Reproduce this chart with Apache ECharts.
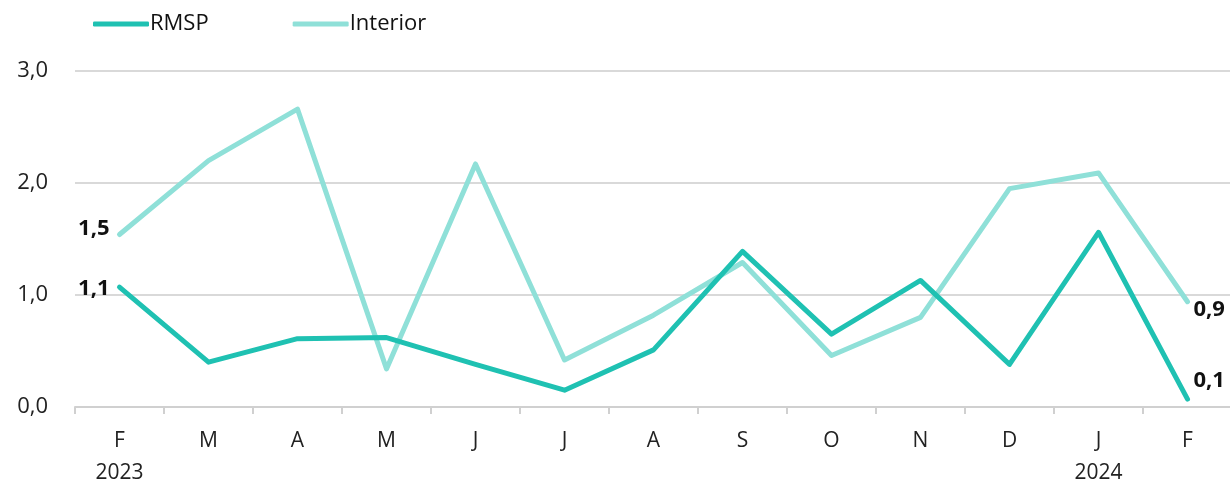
<!DOCTYPE html>
<html>
<head>
<meta charset="utf-8">
<script src="https://cdn.jsdelivr.net/npm/echarts@6/dist/echarts.min.js"></script>
<style>
  html, body { margin: 0; padding: 0; background: #fff; }
  #chart { width: 1230px; height: 485px; }
</style>
</head>
<body>
<div id="chart"></div>
<script>
// meses (fev/2023 a fev/2024)
const months = ['F', 'M', 'A', 'M', 'J', 'J', 'A', 'S', 'O', 'N', 'D', 'J', 'F'];
const years = { 0: '2023', 11: '2024' };
const rmsp = [1.07, 0.40, 0.61, 0.62, 0.38, 0.15, 0.51, 1.39, 0.65, 1.13, 0.38, 1.56, 0.07];
const interior = [1.54, 2.20, 2.66, 0.34, 2.17, 0.42, 0.82, 1.29, 0.46, 0.80, 1.95, 2.09, 0.94];
const yTicks = [0, 1, 2, 3];

const fontFamily = '"Open Sans", "Noto Sans", sans-serif';
const fmt = v => v.toFixed(1).replace('.', ',');

// rótulo só no primeiro e no último ponto
const endLabels = (data, firstOff, lastOff) => data.map((v, i) => {
  if (i === 0) return { value: v, label: { show: true, position: 'left', distance: 10, offset: firstOff } };
  if (i === data.length - 1) return { value: v, label: { show: true, position: 'right', distance: 6, offset: lastOff } };
  return v;
});

const myChart = echarts.init(document.getElementById('chart'));
const option = {
  animation: false,
  textStyle: { fontFamily: fontFamily },
  color: ['#1fc1b2', '#8fe0d8'],
  legend: {
    top: 8,
    left: 88,
    itemWidth: 56,
    itemHeight: 5,
    itemGap: 84,
    icon: 'roundRect',
    textStyle: { fontSize: 22, color: '#111', fontFamily: fontFamily, padding: [2, 0, 0, -4] },
    data: ['RMSP', 'Interior']
  },
  grid: {
    left: 75,
    top: 71,
    width: 1157,
    height: 336,
    outerBoundsMode: 'none'
  },
  xAxis: {
    type: 'category',
    data: months,
    boundaryGap: true,
    axisLine: { lineStyle: { color: '#d0d0d0', width: 2 } },
    axisTick: { show: true, length: 7, lineStyle: { color: '#d0d0d0', width: 2 } },
    axisLabel: {
      color: '#222',
      fontSize: 21,
      margin: 18,
      lineHeight: 32,
      fontFamily: fontFamily,
      formatter: (v, i) => years[i] ? v + '\n' + years[i] : v
    },
    splitLine: { show: false }
  },
  yAxis: {
    type: 'value',
    min: yTicks[0],
    max: yTicks[yTicks.length - 1],
    interval: 1,
    axisLine: { show: false },
    axisTick: { show: false },
    axisLabel: {
      color: '#222',
      fontSize: 22,
      margin: 27,
      fontFamily: fontFamily,
      formatter: v => fmt(v)
    },
    splitLine: { lineStyle: { color: '#d9d9d9', width: 2 } }
  },
  series: [{
    name: 'RMSP',
    type: 'line',
    data: endLabels(rmsp, [0, 2], [0, -18]),
    symbol: 'circle',
    symbolSize: 0,
    showAllSymbol: true,
    lineStyle: { width: 5, cap: 'round', join: 'round' },
    label: { show: false, fontSize: 22, fontWeight: 'bold', color: '#111', fontFamily: fontFamily, formatter: p => fmt(p.value) },
    z: 3
  }, {
    name: 'Interior',
    type: 'line',
    data: endLabels(interior, [0, -6], [0, 8]),
    symbol: 'circle',
    symbolSize: 0,
    showAllSymbol: true,
    lineStyle: { width: 5, cap: 'round', join: 'round' },
    label: { show: false, fontSize: 22, fontWeight: 'bold', color: '#111', fontFamily: fontFamily, formatter: p => fmt(p.value) },
    z: 2
  }]
};
myChart.setOption(option);
</script>
</body>
</html>
